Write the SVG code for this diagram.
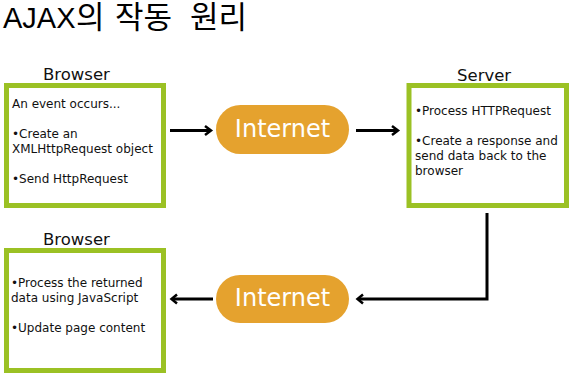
<svg xmlns="http://www.w3.org/2000/svg" width="574" height="378" viewBox="0 0 574 378">
<style>
.box{fill:#fff;stroke:#9BC124;stroke-width:5}
.pill{fill:#E5A22E}
.lbl{font-family:"DejaVu Sans",sans-serif;font-size:16.5px;fill:#111}
.txt{font-family:"DejaVu Sans",sans-serif;font-size:12px;fill:#111}
.net{font-family:"DejaVu Sans",sans-serif;font-size:24px;fill:#fff;text-anchor:middle}
.ln{fill:none;stroke:#000;stroke-width:3}
.hd{fill:none;stroke:#000;stroke-width:2.5}
</style>
<rect width="574" height="378" fill="#fff"/>
<text x="3" y="28" font-family="Liberation Sans, 'Noto Sans CJK KR', sans-serif" font-size="29" fill="#000">AJAX<tspan x="76" font-family="'Noto Sans CJK KR', sans-serif" font-size="31">의</tspan><tspan x="115" font-family="'Noto Sans CJK KR', sans-serif" font-size="31">작동</tspan><tspan x="190" font-family="'Noto Sans CJK KR', sans-serif" font-size="31">원리</tspan></text>
<g id="browser1">
<text class="lbl" x="43" y="80">Browser</text>
<rect class="box" x="6.5" y="85.5" width="157" height="120"/>
<text class="txt" x="12" y="108">An event occurs...</text>
<text class="txt" x="12" y="138">•Create an</text>
<text class="txt" x="12" y="153">XMLHttpRequest object</text>
<text class="txt" x="12" y="183">•Send HttpRequest</text>
</g>
<g id="internet1">
<rect class="pill" x="216" y="105" width="133" height="49" rx="24.5"/>
<text class="net" x="282.5" y="137">Internet</text>
</g>
<g id="server">
<text class="lbl" x="457" y="81">Server</text>
<rect class="box" x="409" y="85.5" width="157.5" height="120"/>
<text class="txt" x="415" y="115">•Process HTTPRequest</text>
<text class="txt" x="415" y="145">•Create a response and</text>
<text class="txt" x="415" y="160">send data back to the</text>
<text class="txt" x="415" y="175">browser</text>
</g>
<g id="internet2">
<rect class="pill" x="216" y="275" width="133" height="48" rx="24"/>
<text class="net" x="282.5" y="306">Internet</text>
</g>
<g id="browser2">
<text class="lbl" x="43" y="245">Browser</text>
<rect class="box" x="6.5" y="250.5" width="157" height="120"/>
<text class="txt" x="11" y="287">•Process the returned</text>
<text class="txt" x="11" y="302">data using JavaScript</text>
<text class="txt" x="11" y="332">•Update page content</text>
</g>
<g id="connectors">
<line class="ln" x1="170" y1="130.5" x2="210" y2="130.5"/>
<polyline class="hd" points="205,126 211,130.5 205,135"/>
<line class="ln" x1="356" y1="130.5" x2="397" y2="130.5"/>
<polyline class="hd" points="392,126 398,130.5 392,135"/>
<polyline class="ln" points="487,213 487,299 358,299"/>
<polyline class="hd" points="363,294.5 357.5,299 363,303.5"/>
<line class="ln" x1="213" y1="299" x2="173" y2="299"/>
<polyline class="hd" points="177,294.5 171.5,299 177,303.5"/>
</g>
</svg>
